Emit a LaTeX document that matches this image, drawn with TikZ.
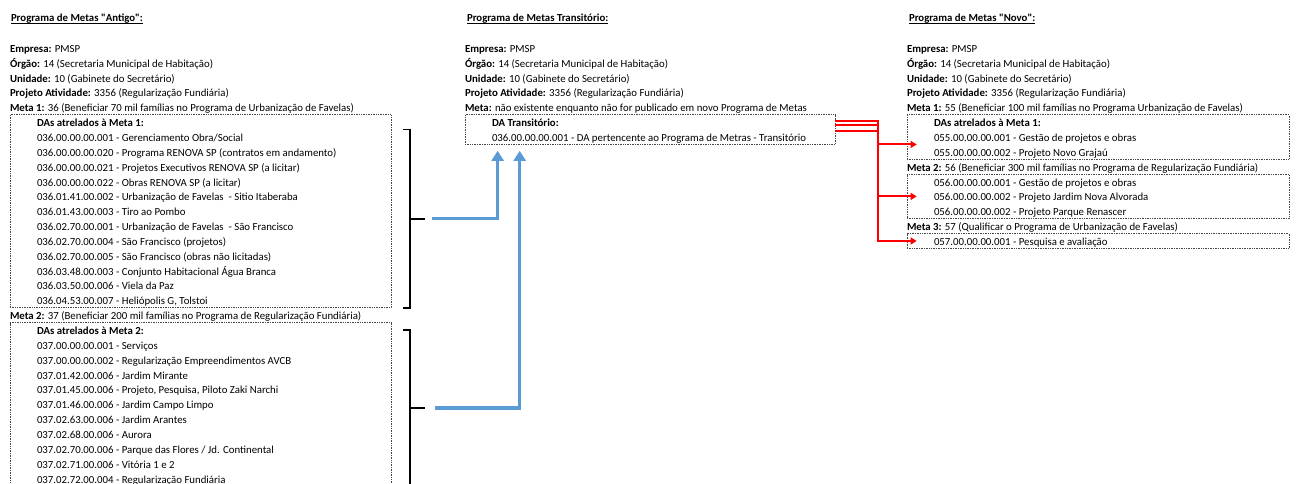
\documentclass[tikz,border=0pt]{standalone}
\usepackage{fontspec}
\setmainfont{Carlito}
\usetikzlibrary{positioning, fit, calc, arrows.meta}

\definecolor{arrowblue}{RGB}{91,155,213}
\definecolor{dotgray}{RGB}{70,70,70}

\tikzset{
	row/.style={inner sep=0pt, outer sep=0pt, text height=11.85pt, text depth=3pt, anchor=north west, font=\fontsize{10.8pt}{13pt}\selectfont},
	title/.style={inner sep=0pt, outer sep=0pt, anchor=base west, font=\fontsize{10.8pt}{13pt}\selectfont\bfseries},
	next/.style={below=of #1.south west, anchor=north west},
	dabox/.style={draw=dotgray, densely dotted, line width=0.7pt, inner sep=0pt},
	bracket/.style={draw, line width=1.6pt},
	bluearrow/.style={draw=arrowblue, line width=3.2pt, -{Triangle[length=10pt,width=12pt]}, shorten >=6pt},
	redarrow/.style={draw=red, line width=2pt, -{Triangle[length=6pt,width=7pt]}}
}

\begin{document}
\begin{tikzpicture}[x=1pt, y=-1pt, node distance=0pt]
	\useasboundingbox (0,0) rectangle (1296,484);

	% cabecalho comum das tres colunas
	\foreach \col/\x/\tx/\ttl in {A/10/11/{Programa de Metas \textquotedbl Antigo\textquotedbl:}, T/465/467/{Programa de Metas Transitório:}, N/907/909/{Programa de Metas \textquotedbl Novo\textquotedbl:}} {
		\node[title] (tit\col) at (\tx,21.5) {\underline{\smash{\ttl}}};
		\node[row] (emp\col) at (\x,40.5) {\textbf{Empresa:} PMSP};
		\node[row, next=emp\col] (org\col) {\textbf{Órgão:} 14 (Secretaria Municipal de Habitação)};
		\node[row, next=org\col] (uni\col) {\textbf{Unidade:} 10 (Gabinete do Secretário)};
		\node[row, next=uni\col] (proj\col) {\textbf{Projeto Atividade:} 3356 (Regularização Fundiária)};
	}
	\coordinate (rA) at (391,0);
	\coordinate (rT) at (835,0);
	\coordinate (rN) at (1289,0);

	% antigo
	\node[row, next=projA] (metaA1) {\textbf{Meta 1:} 36 (Beneficiar 70 mil famílias no Programa de Urbanização de Favelas)};
	\node[row, next=metaA1, xshift=27pt, alias=itA1-0] (daA1) {\textbf{DAs atrelados à Meta 1:}};
	\foreach \txt [count=\i, remember=\i as \j (initially 0)] in {
		{036.00.00.00.001 - Gerenciamento Obra/Social},
		{036.00.00.00.020 - Programa RENOVA SP (contratos em andamento)},
		{036.00.00.00.021 - Projetos Executivos RENOVA SP (a licitar)},
		{036.00.00.00.022 - Obras RENOVA SP (a licitar)},
		{036.01.41.00.002 - Urbanização de Favelas~ - Sitio Itaberaba},
		{036.01.43.00.003 - Tiro ao Pombo},
		{036.02.70.00.001 - Urbanização de Favelas~ - São Francisco},
		{036.02.70.00.004 - São Francisco (projetos)},
		{036.02.70.00.005 - São Francisco (obras não licitadas)},
		{036.03.48.00.003 - Conjunto Habitacional Água Branca},
		{036.03.50.00.006 - Viela da Paz},
		{036.04.53.00.007 - Heliópolis G, Tolstoi}}
		\node[row, next=itA1-\j] (itA1-\i) {\txt};
	\node[row] (metaA2) at (itA1-12.south west -| metaA1.west) {\textbf{Meta 2:} 37 (Beneficiar 200 mil famílias no Programa de Regularização Fundiária)};
	\node[row, next=metaA2, xshift=27pt, alias=itA2-0] (daA2) {\textbf{DAs atrelados à Meta 2:}};
	\foreach \txt [count=\i, remember=\i as \j (initially 0)] in {
		{037.00.00.00.001 - Serviços},
		{037.00.00.00.002 - Regularização Empreendimentos AVCB},
		{037.01.42.00.006 - Jardim Mirante},
		{037.01.45.00.006 - Projeto, Pesquisa, Piloto Zaki Narchi},
		{037.01.46.00.006 - Jardim Campo Limpo},
		{037.02.63.00.006 - Jardim Arantes},
		{037.02.68.00.006 - Aurora},
		{037.02.70.00.006 - Parque das Flores / Jd. Continental},
		{037.02.71.00.006 - Vitória 1 e 2},
		{037.02.72.00.004 - Regularização Fundiária}}
		\node[row, next=itA2-\j] (itA2-\i) {\txt};
	\coordinate (endA2) at ([yshift=-12pt]itA2-10.south -| rA);
	\node[dabox, fit=(metaA1.south west)(itA1-12.south -| rA)] (boxA1) {};
	\node[dabox, fit=(metaA2.south west)(endA2)] (boxA2) {};

	% transitorio
	\node[row, next=projT] (metaT) {\textbf{Meta:} não existente enquanto não for publicado em novo Programa de Metas};
	\node[row, next=metaT, xshift=27pt] (daT) {\textbf{DA Transitório:}};
	\node[row, next=daT] (itT-1) {036.00.00.00.001 - DA pertencente ao Programa de Metras - Transitório};
	\node[dabox, fit=(metaT.south west)(itT-1.south -| rT)] (boxT) {};

	% novo
	\node[row, next=projN] (metaN1) {\textbf{Meta 1:} 55 (Beneficiar 100 mil famílias no Programa Urbanização de Favelas)};
	\node[row, next=metaN1, xshift=27pt] (daN1) {\textbf{DAs atrelados à Meta 1:}};
	\node[row, next=daN1] (itN1-1) {055.00.00.00.001 - Gestão de projetos e obras};
	\node[row, next=itN1-1] (itN1-2) {055.00.00.00.002 - Projeto Novo Grajaú};
	\node[row] (metaN2) at (itN1-2.south west -| metaN1.west) {\textbf{Meta 2:} 56 (Beneficiar 300 mil famílias no Programa de Regularização Fundiária)};
	\node[row, next=metaN2, xshift=27pt] (itN2-1) {056.00.00.00.001 - Gestão de projetos e obras};
	\node[row, next=itN2-1] (itN2-2) {056.00.00.00.002 - Projeto Jardim Nova Alvorada};
	\node[row, next=itN2-2] (itN2-3) {056.00.00.00.002 - Projeto Parque Renascer};
	\node[row] (metaN3) at (itN2-3.south west -| metaN1.west) {\textbf{Meta 3:} 57 (Qualificar o Programa de Urbanização de Favelas)};
	\node[row, next=metaN3, xshift=27pt] (itN3-1) {057.00.00.00.001 - Pesquisa e avaliação};
	\node[dabox, fit=(metaN1.south west)(itN1-2.south -| rN)] (boxN1) {};
	\node[dabox, fit=(metaN2.south west)(itN2-3.south -| rN)] (boxN2) {};
	\node[dabox, fit=(metaN3.south west)(itN3-1.south -| rN)] (boxN3) {};

	% chaves
	\draw[bracket] ([xshift=12pt]daA1.south -| rA) -| ([xshift=19pt]itA1-12.south -| rA) -- ++(-7,0);
	\draw[bracket] ([xshift=12pt]daA2.center -| rA) -| ([xshift=19pt]itA2-10.south -| rA) -- ++(-7,0);
	\coordinate (tipA1) at ($([xshift=19pt]daA1.south -| rA)!0.5!([xshift=19pt]itA1-12.south -| rA)$);
	\coordinate (tipA2) at ($([xshift=19pt]daA2.center -| rA)!0.5!([xshift=19pt]itA2-10.south -| rA)$);
	\draw[bracket] (tipA1) -- ++(15,0);
	\draw[bracket] (tipA2) -- ++(15,0);

	% setas
	\draw[bluearrow] ([xshift=22pt]tipA1) -| ([xshift=33pt]boxT.south west);
	\draw[bluearrow] ([xshift=25pt]tipA2) -| ([xshift=55pt]boxT.south west);
	\draw[redarrow] ([yshift=-7pt]boxT.north east) -- ++(43,0) |- ([xshift=10pt]boxN3.west |- itN3-1.west);
	\draw[redarrow] ([yshift=-11pt]boxT.north east) -- ++(43,0) |- ([xshift=10pt]boxN2.west |- itN2-2.west);
	\draw[redarrow] ([yshift=-17pt]boxT.north east) -- ++(43,0) |- ([xshift=10pt]boxN1.west |- itN1-1.south);
\end{tikzpicture}
\end{document}
